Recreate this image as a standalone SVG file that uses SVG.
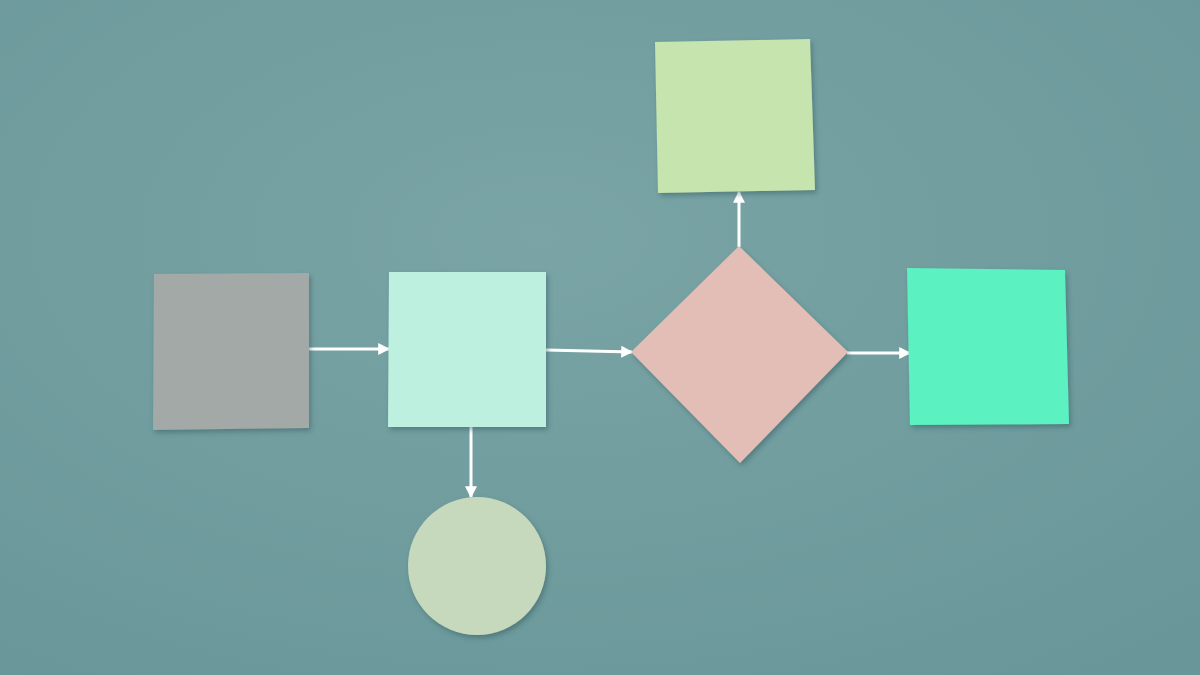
<svg xmlns="http://www.w3.org/2000/svg" width="1200" height="675" viewBox="0 0 1200 675">
<defs>
<radialGradient id="bg" cx="0.45" cy="0.35" r="0.8">
<stop offset="0" stop-color="#7aa4a6"/>
<stop offset="1" stop-color="#699799"/>
</radialGradient>
<filter id="sh" x="-10%" y="-10%" width="130%" height="130%">
<feDropShadow dx="2" dy="3" stdDeviation="2.5" flood-color="#2f5557" flood-opacity="0.45"/>
</filter>
<marker id="ah" viewBox="0 0 10 10" refX="9" refY="5" markerWidth="4" markerHeight="4" orient="auto" markerUnits="strokeWidth">
<path d="M0,0 L10,5 L0,10 Z" fill="#ffffff"/>
</marker>
<style>
.c{stroke:#ffffff;stroke-width:3;fill:none;marker-end:url(#ah)}
.n{filter:url(#sh)}
</style>
</defs>
<rect width="1200" height="675" fill="url(#bg)"/>
<g id="connectors">
<line class="c" x1="309" y1="349" x2="389" y2="349"/>
<line class="c" x1="546" y1="350" x2="632" y2="352"/>
<line class="c" x1="471" y1="427" x2="471" y2="497"/>
<line class="c" x1="739" y1="247" x2="739" y2="192"/>
<line class="c" x1="847" y1="353" x2="910" y2="353"/>
</g>
<g id="gray-square" class="n"><polygon points="154,274 309,273 309,428 153,430" fill="#a3a9a6"/></g>
<g id="mint-square" class="n"><polygon points="389,272 546,272 546,427 388,427" fill="#bdf0de"/></g>
<g id="circle" class="n"><circle cx="477" cy="566" r="69" fill="#c7d9bd"/></g>
<g id="diamond" class="n"><polygon points="739,246 848,352 740,463 631,352" fill="#e3beb6"/></g>
<g id="top-square" class="n"><polygon points="655,42 810,39 815,190 658,193" fill="#c5e4ae"/></g>
<g id="right-square" class="n"><polygon points="907,268 1065,270 1069,424 910,425" fill="#5cf1c0"/></g>
</svg>
